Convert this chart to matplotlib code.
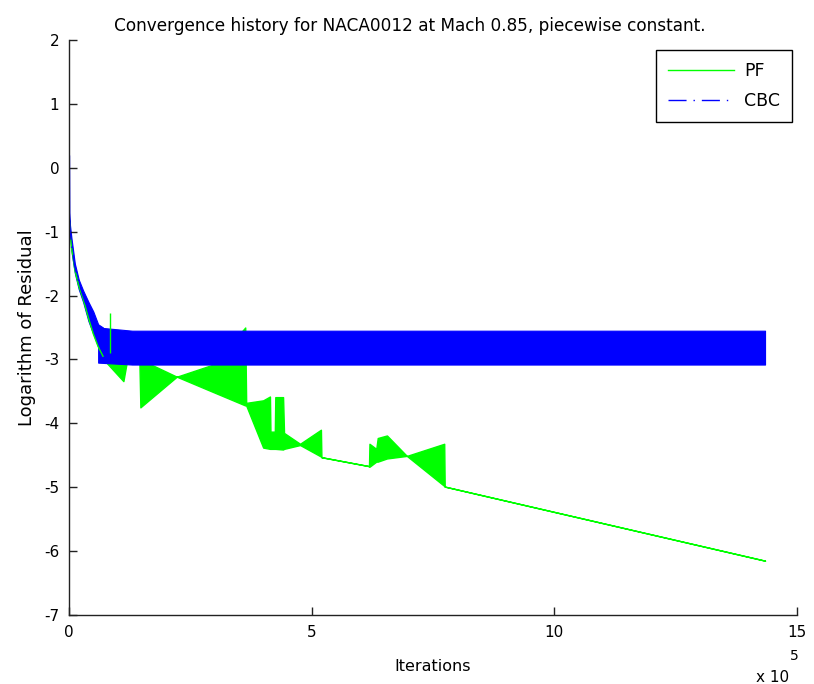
import matplotlib
matplotlib.use('Agg')
import matplotlib.pyplot as plt

plt.rcParams['font.family'] = ['DejaVu Sans']
plt.rcParams['axes.unicode_minus'] = False

# x values in units of 1e5 iterations, y = log10 of residual

# early decay, shared start of both runs
decay_x = [0, 0.005, 0.02, 0.05, 0.12, 0.2, 0.29, 0.4, 0.5, 0.6, 0.7]
pf_decay = [0.0, -0.8, -1.0, -1.25, -1.6, -1.85, -2.05, -2.35, -2.6, -2.8, -2.95]
cbc_decay = [0.2, -0.75, -0.95, -1.2, -1.55, -1.8, -2.0, -2.25, -2.45, -2.6, -2.75]
cbc_decay_hi = [0.2, -0.7, -0.9, -1.1, -1.5, -1.75, -1.92, -2.1, -2.25, -2.45, -2.5]
cbc_decay_lo = [-0.8, -0.85, -1.0, -1.3, -1.65, -1.9, -2.1, -2.4, -2.6, -2.8, -2.95]

# CBC: stalls and oscillates in a band
cbc_band_x = [0.6, 1.3, 14.34]
cbc_band_hi = [-2.5, -2.55, -2.55]
cbc_band_lo = [-3.05, -3.08, -3.08]

# PF: envelope of the oscillations (hi == lo where it is a single line)
pf_x = [0.65, 1.12, 1.20, 1.45, 1.47, 2.22, 2.97, 3.63, 3.65, 4.00, 4.14, 4.15,
        4.24, 4.25, 4.41, 4.43, 4.76, 5.19, 5.20, 6.18, 6.19, 6.33, 6.36, 6.55,
        6.96, 7.73, 7.74, 14.34]
pf_hi = [-2.95, -3.00, -3.00, -3.00, -3.00, -3.27, -3.08, -2.50, -3.68, -3.64,
         -3.58, -4.13, -4.13, -3.59, -3.59, -4.15, -4.32, -4.10, -4.53, -4.67,
         -4.32, -4.40, -4.23, -4.19, -4.51, -4.32, -4.99, -6.15]
pf_lo = [-2.95, -3.34, -3.00, -3.05, -3.75, -3.27, -3.51, -3.72, -3.72, -4.38,
         -4.40, -4.40, -4.40, -4.40, -4.41, -4.40, -4.34, -4.52, -4.53, -4.67,
         -4.68, -4.60, -4.60, -4.55, -4.51, -4.98, -4.99, -6.15]

# a few isolated PF spikes
spike_x = [0.84]
spike_lo = [-2.9]
spike_hi = [-2.27]

green = (0, 1, 0)
blue = (0, 0, 1)

fig = plt.figure(figsize=(8.14, 6.84), dpi=100)
ax = fig.add_axes([0.0848, 0.1009, 0.8944, 0.8406])

# PF
ax.plot(decay_x, pf_decay, color=green, lw=1.0, label='PF')
ax.fill_between(pf_x, pf_lo, pf_hi, facecolor=green, edgecolor=green, lw=1.0)

# CBC on top
ax.plot(decay_x, cbc_decay, color=blue, lw=1.0, linestyle=(0, (13, 5, 1, 5)), label='CBC')
ax.fill_between(decay_x, cbc_decay_lo, cbc_decay_hi, facecolor=blue, edgecolor=blue, lw=0.8)
ax.fill_between(cbc_band_x, cbc_band_lo, cbc_band_hi, facecolor=blue, edgecolor=blue, lw=0.8)

ax.vlines(spike_x, spike_lo, spike_hi, color=green, lw=1.0)

ax.set_xlim(0, 15)
ax.set_ylim(-7, 2)
ax.set_xticks([0, 5, 10, 15])
ax.set_yticks(range(-7, 3))
ax.spines['top'].set_visible(False)
ax.spines['right'].set_visible(False)
for s in ['left', 'bottom']:
    ax.spines[s].set_color('#222222')
    ax.spines[s].set_linewidth(1.0)
ax.tick_params(direction='in', length=6, width=1, color='#222222', labelsize=11, pad=7)

ax.set_xlabel('Iterations', fontsize=11.5, labelpad=14)
ax.set_ylabel('Logarithm of Residual', fontsize=13, labelpad=6)
ax.text(0.468, 1.008, 'Convergence history for NACA0012 at Mach 0.85, piecewise constant.',
        transform=ax.transAxes, ha='center', va='bottom', fontsize=12.2)

# x 10^5 multiplier, MATLAB style
fig.text(0.929, 0.0102, 'x 10', fontsize=11, ha='left', va='center')
fig.text(0.971, 0.041, '5', fontsize=10, ha='left', va='center')

leg = ax.legend(loc='upper right', bbox_to_anchor=(0.993, 0.983), borderaxespad=0,
                fontsize=12.5, handlelength=3.8, handletextpad=0.55, borderpad=0.7,
                labelspacing=0.7, fancybox=False, framealpha=1, edgecolor='black')
leg.get_frame().set_linewidth(1.0)

plt.savefig('out.png', dpi=100)
